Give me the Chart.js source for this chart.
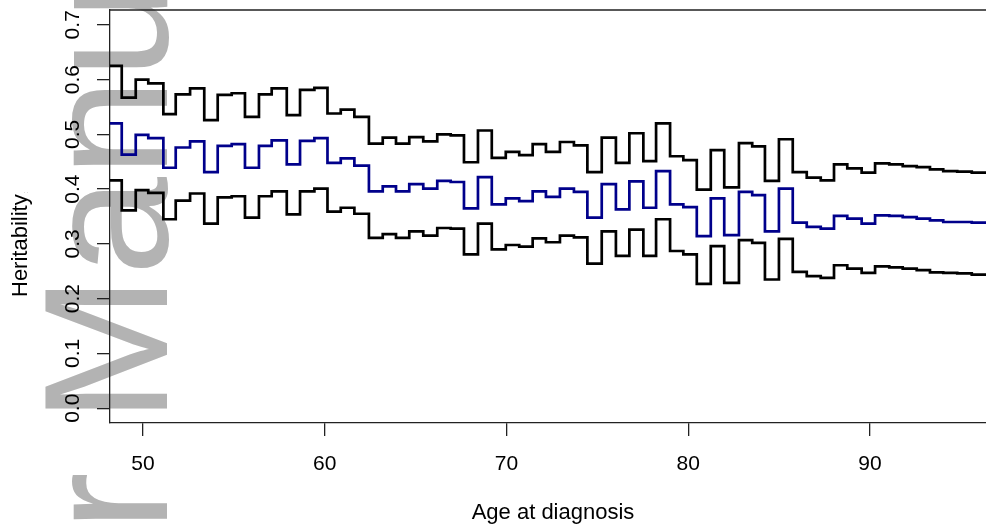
<!DOCTYPE html>
<html><head><meta charset="utf-8">
<script src="https://cdn.jsdelivr.net/npm/chart.js@4.4.1/dist/chart.umd.min.js"></script>
<style>html,body{margin:0;padding:0;background:#fff;overflow:hidden;width:986px;height:531px}canvas{display:block}</style>
</head><body>
<canvas id="c" width="1000" height="531"></canvas>
<script>
// Ages at which the step functions change value (first/last are the plot edges)
const ageBreaks = [48.0,
  48.83,49.60,50.29,51.12,51.80,52.59,53.37,54.11,54.88,55.61,
  56.38,57.08,57.91,58.64,59.43,60.15,60.88,61.63,62.43,63.19,
  63.92,64.65,65.42,66.19,66.93,67.66,68.43,69.19,69.96,70.70,
  71.44,72.17,72.94,73.71,74.45,75.24,76.02,76.76,77.53,78.23,
  79.00,79.73,80.47,81.24,81.98,82.79,83.52,84.22,84.99,85.75,
  86.52,87.29,88.02,88.75,89.54,90.28,91.06,91.80,92.57,93.30,
  94.03,94.80,95.60,
  97.0];
const upper = [
  0.625,0.567,0.600,0.593,0.537,0.573,0.584,0.526,0.572,0.575,
  0.532,0.573,0.584,0.535,0.581,0.585,0.538,0.545,0.532,0.483,
  0.494,0.483,0.495,0.487,0.500,0.498,0.449,0.507,0.457,0.468,
  0.462,0.482,0.468,0.486,0.480,0.431,0.494,0.448,0.502,0.451,
  0.520,0.460,0.453,0.399,0.471,0.403,0.484,0.478,0.415,0.491,
  0.431,0.421,0.416,0.445,0.438,0.430,0.447,0.445,0.442,0.440,
  0.436,0.433,0.432,0.430];
const estimate = [
  0.520,0.463,0.499,0.493,0.439,0.476,0.487,0.431,0.479,0.482,
  0.439,0.479,0.489,0.445,0.488,0.493,0.448,0.456,0.443,0.396,
  0.405,0.396,0.409,0.401,0.415,0.413,0.365,0.422,0.372,0.383,
  0.378,0.396,0.386,0.401,0.395,0.348,0.409,0.363,0.414,0.366,
  0.433,0.372,0.367,0.314,0.383,0.316,0.395,0.389,0.323,0.401,
  0.339,0.331,0.328,0.351,0.346,0.337,0.352,0.351,0.349,0.346,
  0.343,0.340,0.340,0.339];
const lower = [
  0.416,0.361,0.398,0.393,0.345,0.379,0.392,0.337,0.385,0.387,
  0.348,0.387,0.396,0.354,0.396,0.401,0.359,0.366,0.355,0.311,
  0.318,0.311,0.323,0.315,0.329,0.328,0.281,0.337,0.290,0.298,
  0.295,0.310,0.303,0.315,0.312,0.264,0.323,0.278,0.326,0.278,
  0.345,0.287,0.281,0.227,0.296,0.229,0.307,0.302,0.235,0.309,
  0.249,0.241,0.238,0.261,0.255,0.247,0.259,0.257,0.255,0.252,
  0.248,0.247,0.246,0.244];
const xTicks = [50, 60, 70, 80, 90];
const xTickLabels = ['50', '60', '70', '80', '90'];
const yTicks = [0.0, 0.1, 0.2, 0.3, 0.4, 0.5, 0.6, 0.7];
const yTickLabels = ['0.0', '0.1', '0.2', '0.3', '0.4', '0.5', '0.6', '0.7'];
const xTitle = 'Age at diagnosis';
const yTitle = 'Heritability';
const watermark = 'Author Manuscript';

function stepPoints(vals) {
  const pts = vals.map((v, i) => ({x: ageBreaks[i], y: v}));
  pts.push({x: ageBreaks[ageBreaks.length - 1], y: vals[vals.length - 1]});
  return pts;
}

const FONT = '"Liberation Sans", Arial, Helvetica, sans-serif';
const AXIS = '#222';

const decorPlugin = {
  id: 'decor',
  beforeDraw(chart) {
    const ctx = chart.ctx;
    ctx.save();
    ctx.font = '177px ' + FONT;
    const pre = ctx.measureText('Author ').width;
    ctx.translate(167, 423 + pre);
    ctx.rotate(-Math.PI / 2);
    ctx.fillStyle = '#b3b3b3';
    ctx.textAlign = 'left';
    ctx.textBaseline = 'alphabetic';
    ctx.fillText(watermark, 0, 0);
    ctx.restore();
  },
  afterDraw(chart) {
    const ctx = chart.ctx;
    const a = chart.chartArea;
    const ys = chart.scales.y;
    ctx.save();
    ctx.strokeStyle = AXIS;
    ctx.lineWidth = 1.3;
    ctx.beginPath();
    ctx.moveTo(a.left, a.top);
    ctx.lineTo(a.right, a.top);
    ctx.lineTo(a.right, a.bottom);
    ctx.stroke();
    // y tick labels, parallel to the axis
    ctx.fillStyle = '#000';
    ctx.font = '21px ' + FONT;
    ctx.textAlign = 'center';
    ctx.textBaseline = 'alphabetic';
    yTicks.forEach((v, i) => {
      const py = ys.getPixelForValue(v);
      ctx.save();
      ctx.translate(79, py);
      ctx.rotate(-Math.PI / 2);
      ctx.fillText(yTickLabels[i], 0, 0);
      ctx.restore();
    });
    // y title
    ctx.save();
    ctx.font = '22px ' + FONT;
    ctx.translate(26.7, 297);
    ctx.rotate(-Math.PI / 2);
    ctx.textAlign = 'left';
    ctx.fillText(yTitle, 0, 0);
    const w = ctx.measureText(yTitle).width;
    ctx.font = '7px ' + FONT;
    ctx.fillStyle = '#aaa';
    ctx.fillText(':', w + 1, 1);
    ctx.restore();
    ctx.restore();
  }
};

new Chart(document.getElementById('c'), {
  type: 'line',
  data: {
    datasets: [
      {label: 'upper', data: stepPoints(upper), borderColor: '#000', borderWidth: 2.7, stepped: 'before', pointRadius: 0, fill: false},
      {label: 'estimate', data: stepPoints(estimate), borderColor: '#00008b', borderWidth: 2.7, stepped: 'before', pointRadius: 0, fill: false},
      {label: 'lower', data: stepPoints(lower), borderColor: '#000', borderWidth: 2.7, stepped: 'before', pointRadius: 0, fill: false}
    ]
  },
  options: {
    responsive: false,
    animation: false,
    devicePixelRatio: 1,
    layout: {padding: {top: 10, right: 4, left: 0, bottom: 0}},
    plugins: {legend: {display: false}, tooltip: {enabled: false}},
    scales: {
      x: {
        type: 'linear',
        min: 48.184,
        max: 96.933,
        afterFit: s => { s.height = 108; },
        afterBuildTicks: s => { s.ticks = xTicks.map(v => ({value: v})); },
        grid: {drawOnChartArea: false, drawTicks: true, tickLength: 13, color: AXIS, lineWidth: 1.3},
        border: {display: true, color: AXIS, width: 1.3},
        ticks: {
          color: '#000', font: {family: FONT, size: 21}, padding: 16, maxRotation: 0, autoSkip: false,
          callback: (v, i) => xTickLabels[i]
        },
        title: {display: true, text: xTitle, color: '#000', font: {family: FONT, size: 22}, padding: {top: 0, bottom: 4.7}}
      },
      y: {
        type: 'linear',
        min: -0.027,
        max: 0.727,
        afterFit: s => { s.width = 110; s.paddingTop = 0; s.paddingBottom = 0; },
        afterBuildTicks: s => { s.ticks = yTicks.map(v => ({value: v})); },
        grid: {drawOnChartArea: false, drawTicks: true, tickLength: 13, color: AXIS, lineWidth: 1.3},
        border: {display: true, color: AXIS, width: 1.3},
        ticks: {display: true, callback: () => '', padding: 0, font: {family: FONT, size: 1, lineHeight: 0.1}}
      }
    }
  },
  plugins: [decorPlugin]
});
</script>
</body></html>
